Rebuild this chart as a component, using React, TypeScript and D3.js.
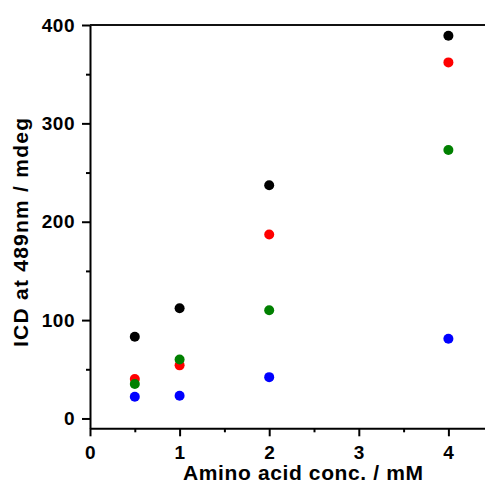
import React, { useEffect, useRef } from 'react';
import * as d3 from 'd3';

// amino acid concentration (mM)
const conc = [0.5, 1, 2, 4];
// ICD at 489nm (mdeg), one array per series
const blackVals = [83, 112, 237, 389];
const redVals = [40, 54, 187, 362];
const greenVals = [35, 60, 110, 273];
const blueVals = [22, 23, 42, 81];

const series = [
    { name: 'black', color: '#000000', values: blackVals },
    { name: 'red', color: '#ff0000', values: redVals },
    { name: 'green', color: '#008000', values: greenVals },
    { name: 'blue', color: '#0000ff', values: blueVals },
];

const xTicks = [0, 1, 2, 3, 4];
const xMinor = [0.5, 1.5, 2.5, 3.5];
const yTicks = [0, 100, 200, 300, 400];
const yMinor = [50, 150, 250, 350];

const FONT = '"Liberation Sans", Arial, sans-serif';

const App = () => {
    const ref = useRef<SVGSVGElement | null>(null);

    useEffect(() => {
        const svg = d3.select(ref.current);
        svg.selectAll('*').remove();

        const width = 485;
        const height = 484;

        const x = d3.scaleLinear().domain([0, 4.5]).range([90, 90 + 4.5 * 89.6]);
        const y = d3.scaleLinear().domain([-10, 400]).range([428.3, 25]);

        svg.append('rect').attr('width', width).attr('height', height).attr('fill', '#ffffff');

        // minor ticks
        svg.append('g')
            .attr('transform', `translate(0,${y(-10)})`)
            .call(d3.axisBottom(x).tickValues(xMinor).tickSize(4).tickFormat(() => ''))
            .call(g => g.select('.domain').remove())
            .selectAll('line').attr('stroke', '#000').attr('stroke-width', 2);

        svg.append('g')
            .attr('transform', `translate(${x(0)},0)`)
            .call(d3.axisLeft(y).tickValues(yMinor).tickSize(4).tickFormat(() => ''))
            .call(g => g.select('.domain').remove())
            .selectAll('line').attr('stroke', '#000').attr('stroke-width', 2);

        const styleTicks = (sel: any) => sel
            .attr('fill', '#000')
            .style('font-family', FONT)
            .style('font-weight', 'bold')
            .style('font-size', '19px')
            .style('letter-spacing', '0.5px');

        // x axis
        const xg = svg.append('g')
            .attr('transform', `translate(0,${y(-10)})`)
            .call(d3.axisBottom(x).tickValues(xTicks).tickSize(8).tickSizeOuter(0).tickPadding(9).tickFormat(d3.format('d')));
        xg.select('.domain').attr('stroke', '#000').attr('stroke-width', 2);
        xg.selectAll('line').attr('stroke', '#000').attr('stroke-width', 2);
        styleTicks(xg.selectAll('text'));

        // y axis
        const yg = svg.append('g')
            .attr('transform', `translate(${x(0)},0)`)
            .call(d3.axisLeft(y).tickValues(yTicks).tickSize(8).tickSizeOuter(0).tickPadding(7).tickFormat(d3.format('d')));
        yg.select('.domain').attr('stroke', '#000').attr('stroke-width', 2);
        yg.selectAll('line').attr('stroke', '#000').attr('stroke-width', 2);
        styleTicks(yg.selectAll('text'));

        // top frame line
        svg.append('line')
            .attr('x1', x(0)).attr('x2', x(4.5))
            .attr('y1', y(400)).attr('y2', y(400))
            .attr('stroke', '#111').attr('stroke-width', 2);

        // points
        series.forEach(s => {
            svg.append('g')
                .selectAll('circle')
                .data(s.values)
                .enter().append('circle')
                .attr('cx', (d, i) => x(conc[i]))
                .attr('cy', d => y(d))
                .attr('r', 5)
                .attr('fill', s.color);
        });

        // axis titles
        svg.append('text')
            .attr('x', 183)
            .attr('y', 480)
            .attr('textLength', 240)
            .attr('fill', '#000')
            .style('font-family', FONT)
            .style('font-weight', 'bold')
            .style('font-size', '21px')
            .text('Amino acid conc. / mM');

        svg.append('text')
            .attr('transform', 'translate(28,347) rotate(-90)')
            .attr('textLength', 229)
            .attr('fill', '#000')
            .style('font-family', FONT)
            .style('font-weight', 'bold')
            .style('font-size', '21px')
            .text('ICD at 489nm / mdeg');
    }, []);

    return (
        <div style={{ position: 'absolute', left: 0, top: 0 }}>
            <svg ref={ref} width={485} height={484} style={{ display: 'block' }} />
        </div>
    );
};

export default App;
